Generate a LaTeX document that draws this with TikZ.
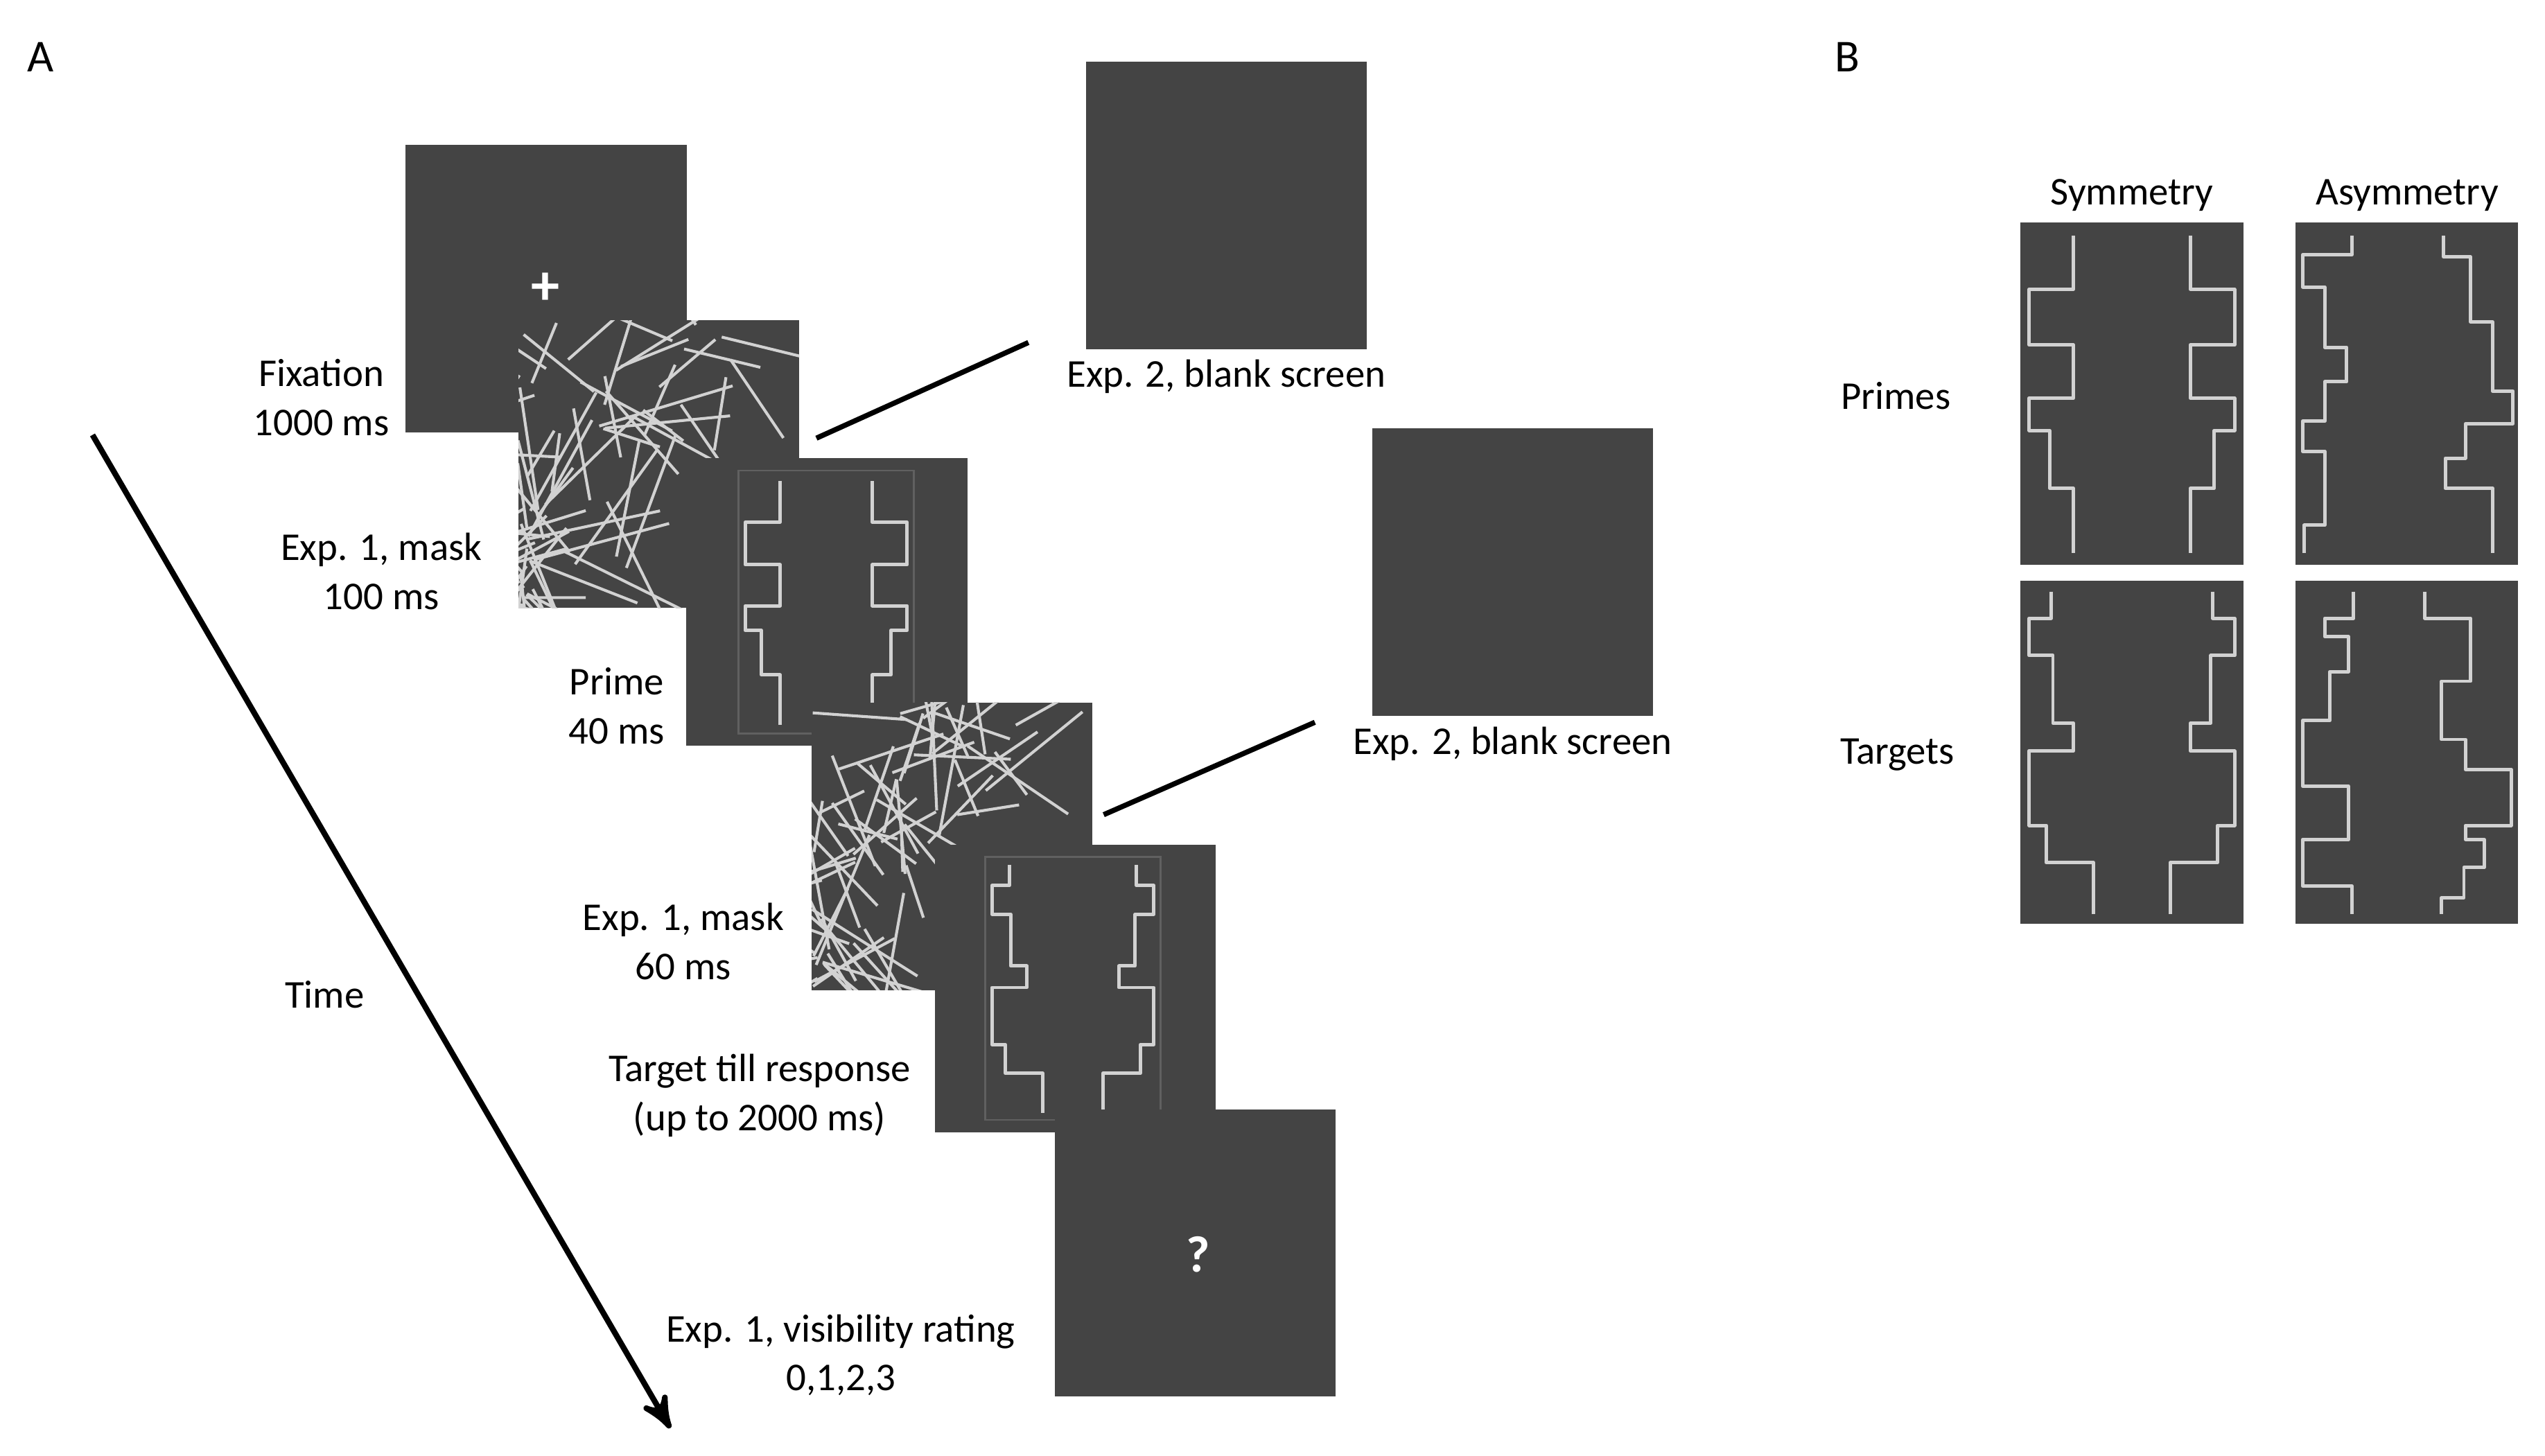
\documentclass[tikz,border=0pt]{standalone}
\usepackage{fontspec}
\setmainfont{Carlito}
\usepackage{tikz}
\usetikzlibrary{arrows,positioning}
\definecolor{panelgray}{RGB}{68,68,68}
\definecolor{stimgray}{RGB}{210,210,210}
\tikzset{
  panel/.style={fill=panelgray,draw=none,inner sep=0pt,outer sep=0pt,minimum width=1.73cm,minimum height=1.77cm},
  small/.style={fill=panelgray,draw=none,inner sep=0pt,outer sep=0pt,minimum width=1.37cm,minimum height=2.11cm},
  stim/.style={stimgray,line width=0.6pt,line join=round},
  lbl/.style={align=center,font=\fontsize{6.9}{8.6}\selectfont,inner sep=0pt}
}
% stimulus outlines, drawn in a unit square
\newcommand{\symprimepath}{%
  \foreach \s in {1,-1}{\begin{scope}[shift={(0.5,0)},xscale=\s,shift={(-0.5,0)}]
  \draw[stim] (0.237,0.04)--(0.237,0.196)--(0.038,0.196)--(0.038,0.358)--(0.237,0.358)--(0.237,0.514)--(0.038,0.514)--(0.038,0.608)--(0.130,0.608)--(0.130,0.777)--(0.237,0.777)--(0.237,0.966);
  \end{scope}}}
\newcommand{\symtargetpath}{%
  \foreach \s in {1,-1}{\begin{scope}[shift={(0.5,0)},xscale=\s,shift={(-0.5,0)}]
  \draw[stim] (0.137,0.031)--(0.137,0.109)--(0.038,0.109)--(0.038,0.218)--(0.145,0.218)--(0.145,0.415)--(0.237,0.415)--(0.237,0.497)--(0.038,0.497)--(0.038,0.714)--(0.115,0.714)--(0.115,0.823)--(0.328,0.823)--(0.328,0.973);
  \end{scope}}}
\newcommand{\asymprimepath}{%
  \draw[stim] (0.252,0.04)--(0.252,0.095)--(0.031,0.095)--(0.031,0.189)--(0.130,0.189)--(0.130,0.365)--(0.229,0.365)--(0.229,0.466)--(0.130,0.466)--(0.130,0.581)--(0.031,0.581)--(0.031,0.669)--(0.130,0.669)--(0.130,0.885)--(0.038,0.885)--(0.038,0.966);
  \draw[stim] (0.664,0.04)--(0.664,0.101)--(0.786,0.101)--(0.786,0.291)--(0.885,0.291)--(0.885,0.493)--(0.977,0.493)--(0.977,0.588)--(0.763,0.588)--(0.763,0.689)--(0.672,0.689)--(0.672,0.777)--(0.885,0.777)--(0.885,0.966);}
\newcommand{\asymtargetpath}{%
  \draw[stim] (0.260,0.031)--(0.260,0.109)--(0.130,0.109)--(0.130,0.163)--(0.237,0.163)--(0.237,0.265)--(0.153,0.265)--(0.153,0.408)--(0.031,0.408)--(0.031,0.599)--(0.237,0.599)--(0.237,0.755)--(0.031,0.755)--(0.031,0.891)--(0.252,0.891)--(0.252,0.973);
  \draw[stim] (0.580,0.031)--(0.580,0.109)--(0.786,0.109)--(0.786,0.293)--(0.656,0.293)--(0.656,0.463)--(0.763,0.463)--(0.763,0.551)--(0.969,0.551)--(0.969,0.714)--(0.763,0.714)--(0.763,0.755)--(0.847,0.755)--(0.847,0.837)--(0.756,0.837)--(0.756,0.925)--(0.656,0.925)--(0.656,0.973);}
\newcommand{\maskfill}[1]{%
  \begin{scope}
  \clip (#1.south west) rectangle (#1.north east);
  \foreach \i in {1,...,70}{
    \pgfmathsetmacro{\mx}{rnd}\pgfmathsetmacro{\my}{rnd}
    \pgfmathsetmacro{\ma}{360*rnd}\pgfmathsetmacro{\ml}{30+60*rnd}
    \draw[stimgray,line width=0.5pt] ($(#1.north west)!\mx!(#1.north east)!\my!(#1.south west)-(#1.north west)+(#1.north west)$)--++(\ma:\ml);
  }
  \end{scope}}
\usetikzlibrary{calc}
\begin{document}
\begin{tikzpicture}[x=0.01cm,y=-0.01cm,>=stealth']
\useasboundingbox (0,0) rectangle (1568,897);
\pgfmathsetseed{7}
\node[lbl,font=\fontsize{8}{9}\selectfont] (labA) at (25,35) {A};
\node[lbl,font=\fontsize{8}{9}\selectfont] (labB) at (1138,35) {B};
% sequence of screens
\node[panel] (fix) at (336.5,178) {};
\node[text=white,font=\bfseries\fontsize{10}{10}\selectfont,inner sep=0pt] (cross) at (336,178) {+};
\node[panel] (mask1) at (406,286) {};
\maskfill{mask1}
\node[panel] (prime) at (509.5,371) {};
\begin{scope}[shift={(455,290)},xscale=108,yscale=162]
  \draw[panelgray!85!white,line width=0.3pt] (0,0) rectangle (1,1);
  \symprimepath
\end{scope}
\node[panel] (mask2) at (586.5,521.5) {};
\maskfill{mask2}
\node[panel] (target) at (662.5,609) {};
\begin{scope}[shift={(607,528)},xscale=108,yscale=162]
  \draw[panelgray!85!white,line width=0.3pt] (0,0) rectangle (1,1);
  \symtargetpath
\end{scope}
\node[panel] (rating) at (736.5,772) {};
\node[text=white,lbl,font=\bfseries\fontsize{9}{9}\selectfont] (qmark) at (738,773) {?};
% blank screens of Exp. 2
\node[panel] (blank1) at (755.5,126.5) {};
\node[lbl,below=0.06cm of blank1] (blank1lbl) {Exp. 2, blank screen};
\node[panel] (blank2) at (932,352.5) {};
\node[lbl,below=0.06cm of blank2] (blank2lbl) {Exp. 2, blank screen};
\coordinate (m1end) at (503,270);
\coordinate (m2end) at (680,502);
\draw[line width=0.9pt] (m1end) -- ($(blank1lbl.north west)+(-23,-10)$);
\draw[line width=0.9pt] (m2end) -- ($(blank2lbl.north west)+(-23,-2)$);
% labels
\node[lbl] (fixlbl) at (198,245) {Fixation\\1000 ms};
\node[lbl] (mask1lbl) at (235,352) {Exp. 1, mask\\100 ms};
\node[lbl] (primelbl) at (380,435) {Prime\\40 ms};
\node[lbl] (mask2lbl) at (421,580) {Exp. 1, mask\\60 ms};
\node[lbl] (targetlbl) at (468,675) {Target till response\\(up to 2000 ms)};
\node[lbl] (ratinglbl) at (518,835) {Exp. 1, visibility rating\\0,1,2,3};
\coordinate (tstart) at (57,268);
\coordinate (tend) at (413,880);
\draw[->,line width=1pt] (tstart) -- (tend);
\node[lbl] (timelbl) at (200,613) {Time};
% panel B
\node[small] (sp) at (1313.5,242.5) {};
\node[small] (ap) at (1483,242.5) {};
\node[small] (st) at (1313.5,463.5) {};
\node[small] (at) at (1483,463.5) {};
\begin{scope}[shift={(sp.north west)},xscale=137,yscale=211] \symprimepath \end{scope}
\begin{scope}[shift={(ap.north west)},xscale=137,yscale=211] \asymprimepath \end{scope}
\begin{scope}[shift={(st.north west)},xscale=137,yscale=211] \symtargetpath \end{scope}
\begin{scope}[shift={(at.north west)},xscale=137,yscale=211] \asymtargetpath \end{scope}
\node[lbl,above=0.06cm of sp] (symlbl) {Symmetry};
\node[lbl,above=0.06cm of ap] (asymlbl) {Asymmetry};
\node[lbl] (primeslbl) at (1168,244) {Primes};
\node[lbl] (targetslbl) at (1169,465) {Targets};
\end{tikzpicture}
\end{document}
